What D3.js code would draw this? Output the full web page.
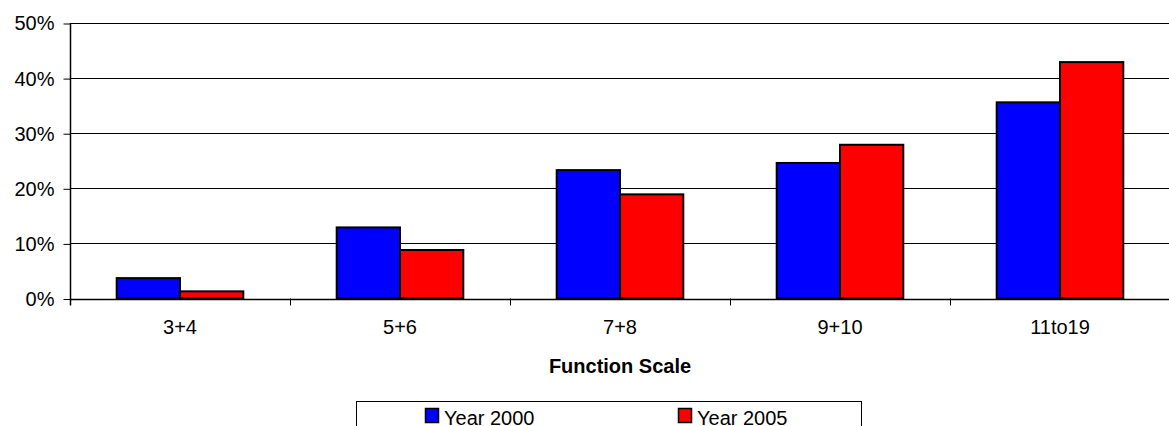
<!DOCTYPE html>
<html>
<head>
<meta charset="utf-8">
<script src="https://cdn.jsdelivr.net/npm/d3@7"></script>
<style>
  html, body { margin: 0; padding: 0; background: #fff; }
  svg { display: block; font-family: "Liberation Sans", Arial, sans-serif; }
</style>
</head>
<body>
<svg id="chart" width="1169" height="426"></svg>
<script>
const categories = ["3+4", "5+6", "7+8", "9+10", "11to19"];
const seriesNames = ["Year 2000", "Year 2005"];
const year2000 = [3.7, 12.9, 23.3, 24.6, 35.6];
const year2005 = [1.3, 8.8, 18.9, 27.9, 42.9];
const yTicks = [0, 10, 20, 30, 40, 50];
const colors = ["#0000ff", "#ff0000"];
const xTitle = "Function Scale";

(function () {
const svg = d3.select("#chart");
const pLeft = 70, pRight = 1170, pTop = 23, pBottom = 298.5;

const x0 = d3.scaleBand().domain(categories).range([pLeft, pRight]).paddingInner(0).paddingOuter(0);
const groupW = 126.6;
const x1 = d3.scaleBand().domain(seriesNames).range([0, groupW]).padding(0);
const y = d3.scaleLinear().domain([0, 50]).range([pBottom, pTop]);

// gridlines
svg.append("g").selectAll("line").data(yTicks.filter(d => d > 0)).join("line")
  .attr("x1", pLeft).attr("x2", pRight)
  .attr("y1", d => Math.round(y(d)) + 0.5).attr("y2", d => Math.round(y(d)) + 0.5)
  .attr("stroke", "#000").attr("stroke-width", 1);

// bars
const data = categories.map((c, i) => ({ c, vals: [year2000[i], year2005[i]] }));
const groups = svg.append("g").selectAll("g").data(data).join("g")
  .attr("transform", d => `translate(${x0(d.c) + (x0.bandwidth() - groupW) / 2},0)`);
groups.selectAll("rect").data(d => d.vals.map((v, j) => ({ v, s: seriesNames[j], j }))).join("rect")
  .attr("x", d => x1(d.s))
  .attr("width", x1.bandwidth())
  .attr("y", d => y(d.v))
  .attr("height", d => y(0) - y(d.v))
  .attr("fill", d => colors[d.j])
  .attr("stroke", "#000").attr("stroke-width", 2);

// y axis
const yAxis = d3.axisLeft(y).tickValues(yTicks).tickFormat(d => d + "%").tickSize(7).tickPadding(9);
const yg = svg.append("g").attr("transform", `translate(${pLeft + 0.5},0.5)`).call(yAxis);
yg.select(".domain").remove();
yg.selectAll(".tick line").attr("stroke", "#000");
yg.selectAll("text").attr("font-size", 20).attr("fill", "#000").attr("font-family", "Liberation Sans, Arial, sans-serif");
svg.append("line").attr("x1", pLeft + 0.5).attr("x2", pLeft + 0.5).attr("y1", pTop).attr("y2", pBottom + 7)
  .attr("stroke", "#000").attr("stroke-width", 1.5);

// x axis
const xAxis = d3.axisBottom(x0).tickSize(0).tickPadding(20);
const xg = svg.append("g").attr("transform", `translate(0,${Math.round(pBottom) + 0.5})`).call(xAxis);
xg.select(".domain").remove();
xg.selectAll("text").attr("font-size", 20).attr("fill", "#000").attr("font-family", "Liberation Sans, Arial, sans-serif");
svg.append("line").attr("x1", pLeft).attr("x2", pRight).attr("y1", Math.round(pBottom) + 0.5).attr("y2", Math.round(pBottom) + 0.5)
  .attr("stroke", "#000").attr("stroke-width", 1.5);
// category separators
svg.append("g").selectAll("line").data(categories.slice(1)).join("line")
  .attr("x1", d => Math.round(x0(d)) + 0.5).attr("x2", d => Math.round(x0(d)) + 0.5)
  .attr("y1", pBottom).attr("y2", pBottom + 7)
  .attr("stroke", "#000").attr("stroke-width", 1);

// x title
svg.append("text").attr("x", (pLeft + pRight) / 2).attr("y", 373)
  .attr("text-anchor", "middle").attr("font-size", 20).attr("font-weight", "bold").text(xTitle);

// legend
const lg = svg.append("g");
lg.append("rect").attr("x", 356.5).attr("y", 401.5).attr("width", 505).attr("height", 40)
  .attr("fill", "#fff").attr("stroke", "#000").attr("stroke-width", 1);
const legX = [425, 678];
const items = lg.selectAll("g").data(seriesNames).join("g")
  .attr("transform", (d, i) => `translate(${legX[i]},0)`);
items.append("rect").attr("x", 0.5).attr("y", 408.5).attr("width", 13).attr("height", 14)
  .attr("fill", (d, i) => colors[i]).attr("stroke", "#000").attr("stroke-width", 1.5);
items.append("text").attr("x", 19).attr("y", 425).attr("font-size", 20).text(d => d);
})();
</script>
</body>
</html>
